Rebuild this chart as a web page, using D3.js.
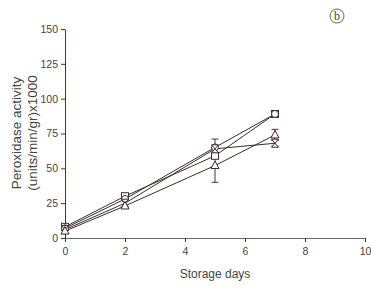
<!DOCTYPE html>
<html><head><meta charset="utf-8">
<script src="https://cdn.jsdelivr.net/npm/d3@7"></script>
<style>body{margin:0;background:#fff}svg{display:block}</style>
</head><body><svg id="c" width="371" height="289"></svg>
<script>
const days = [0, 2, 5, 7];
const squareVals = [8, 30, 59, 89];
const circleVals = [7, 28, 65, 89];
const bowtieVals = [6, 25, 64, 68];
const triangleVals = [5, 23, 52, 74];
const circleErr = [0, 0, 6, 0];
const triangleErr = [0, 0, 12, 4];
const bowtieErr = [0, 0, 0, 2];
const xTicks = [0, 2, 4, 6, 8, 10];
const yTicks = [0, 25, 50, 75, 100, 125, 150];

const svg = d3.select("#c");
const x = d3.scaleLinear().domain([0, 10]).range([65, 365]);
const y = d3.scaleLinear().domain([0, 150]).range([238, 29]);
const lineCol = "#3a2d2a", axisCol = "#5a2e26", textCol = "#444";
const font = "Liberation Sans, Arial, sans-serif";

const series = [
  {vals: squareVals, err: [0,0,0,0], shape: "square"},
  {vals: circleVals, err: circleErr, shape: "circle"},
  {vals: bowtieVals, err: bowtieErr, shape: "bowtie"},
  {vals: triangleVals, err: triangleErr, shape: "triangle"}
];

const xAxis = svg.append("g").attr("transform", `translate(0,${y(0)})`)
  .call(d3.axisBottom(x).tickValues(xTicks).tickSize(4).tickSizeOuter(0).tickPadding(6));
const yAxis = svg.append("g").attr("transform", `translate(${x(0)},0)`)
  .call(d3.axisLeft(y).tickValues(yTicks).tickSize(4).tickSizeOuter(0).tickPadding(3));
[xAxis, yAxis].forEach(a => {
  a.selectAll("path,line").attr("stroke", axisCol).attr("stroke-width", 1);
  a.selectAll("text").attr("fill", textCol).attr("font-family", font).attr("font-size", 10.5);
});
xAxis.select(".domain").attr("stroke", "#666");

const line = d3.line().x((d, i) => x(days[i])).y(d => y(d));
const g = svg.append("g");
series.forEach(s => {
  g.append("path").datum(s.vals).attr("d", line)
    .attr("fill", "none").attr("stroke", lineCol).attr("stroke-width", 1);
});
series.forEach(s => {
  s.err.forEach((e, i) => {
    if (!e) return;
    const cx = x(days[i]), y1 = y(s.vals[i] - e), y2 = y(s.vals[i] + e);
    g.append("line").attr("x1", cx).attr("x2", cx).attr("y1", y1).attr("y2", y2).attr("stroke", axisCol);
    [y1, y2].forEach(yy => g.append("line").attr("x1", cx - 3.5).attr("x2", cx + 3.5)
      .attr("y1", yy).attr("y2", yy).attr("stroke", axisCol));
  });
});
series.forEach(s => {
  s.vals.forEach((v, i) => {
    const cx = x(days[i]), cy = y(v);
    let m;
    if (s.shape === "square") m = g.append("rect").attr("x", cx - 3.5).attr("y", cy - 3.5).attr("width", 7).attr("height", 7);
    else if (s.shape === "circle") m = g.append("circle").attr("cx", cx).attr("cy", cy).attr("r", 3.5);
    else if (s.shape === "triangle") m = g.append("path").attr("d", `M${cx},${cy-4.5}L${cx+4},${cy+3}L${cx-4},${cy+3}Z`);
    else m = g.append("path").attr("d", `M${cx-3.5},${cy-4}L${cx+3.5},${cy-4}L${cx-3.5},${cy+4}L${cx+3.5},${cy+4}Z`);
    m.attr("fill", "#fff").attr("stroke", lineCol).attr("stroke-width", 1);
  });
});

svg.append("text").attr("x", x(5)).attr("y", 278).attr("text-anchor", "middle")
  .attr("font-family", font).attr("font-size", 12).attr("fill", textCol).text("Storage days");
const yl = svg.append("text").attr("transform", "translate(21,133) rotate(-90)")
  .attr("text-anchor", "middle").attr("font-family", font).attr("font-size", 13.5).attr("fill", textCol);
yl.append("tspan").attr("x", 0).attr("dy", 0).text("Peroxidase activity");
yl.append("tspan").attr("x", 0).attr("dy", 16).text("(units/min/gr)x1000");

svg.append("circle").attr("cx", 337).attr("cy", 16).attr("r", 7).attr("fill", "none").attr("stroke", "#555").attr("stroke-width", 0.9);
svg.append("text").attr("x", 337).attr("y", 20).attr("text-anchor", "middle")
  .attr("font-family", "Liberation Serif, serif").attr("font-size", 12).attr("fill", "#444").text("b");
</script></body></html>
